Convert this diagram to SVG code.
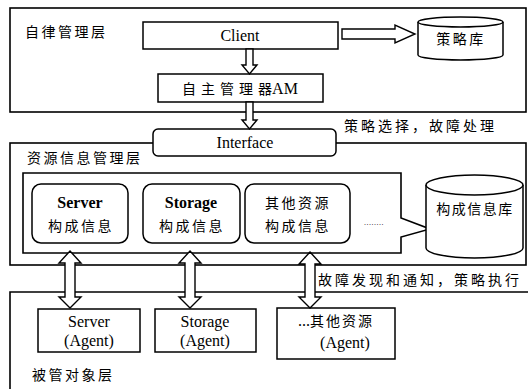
<svg xmlns="http://www.w3.org/2000/svg" width="528" height="389" viewBox="0 0 528 389">
<style>
.ln{fill:#fff;stroke:#000;stroke-width:1.5}
.lf{fill:none;stroke:#000;stroke-width:1.6}
.ar{fill:#fff;stroke:#000;stroke-width:1.4;stroke-linejoin:miter}
.cj{font-family:"Noto Sans CJK SC","Noto Sans CJK JP",sans-serif;font-size:14px;letter-spacing:2.5px;fill:#000}
.en{font-family:"Liberation Serif","DejaVu Serif",serif;font-size:16px;fill:#000}
.b{font-weight:bold}
.c{text-anchor:middle}
</style>
<rect width="528" height="389" fill="#fff"/>
<g id="layer-autonomic">
<rect class="lf" x="10" y="8" width="516" height="104"/>
<text class="cj" x="25" y="37">自律管理层</text>
</g>
<g id="layer-resource">
<rect class="lf" x="10" y="143" width="516" height="122"/>
<text class="cj" x="27" y="163">资源信息管理层</text>
<polygon class="lf" points="23,173 401,173 401,218 430,229 401,237 401,253 23,253"/>
</g>
<g id="layer-managed">
<path class="lf" d="M10,389 V292 H528"/>
<text class="cj" x="32" y="380">被管对象层</text>
</g>
<g id="client">
<rect class="ln" x="143" y="22" width="195" height="27"/>
<text class="en c" x="240" y="41">Client</text>
</g>
<g id="policy-db">
<path class="ln" d="M418,22 V55 A42.5,5 0 0 0 503,55 V22"/>
<ellipse class="ln" cx="460.5" cy="22" rx="42.5" ry="5"/>
<text class="cj c" x="461" y="44">策略库</text>
</g>
<g id="am">
<rect class="ln" x="158" y="74" width="165" height="28"/>
<text class="en c" x="240" y="94"><tspan class="cj" style="letter-spacing:5px">自主管理</tspan><tspan class="cj" style="letter-spacing:0">器</tspan>AM</text>
</g>
<g id="interface">
<rect class="ln" x="153" y="129" width="183" height="27" rx="5"/>
<text class="en c" x="245" y="148">Interface</text>
</g>
<text class="cj" x="344" y="131" style="letter-spacing:3px">策略选择，故障处理</text>
<g id="server-info">
<rect class="ln" x="32" y="184" width="96" height="59" rx="9"/>
<text class="en b c" x="80" y="208">Server</text>
<text class="cj c" x="81" y="231">构成信息</text>
</g>
<g id="storage-info">
<rect class="ln" x="143" y="184" width="97" height="59" rx="9"/>
<text class="en b c" x="191" y="208">Storage</text>
<text class="cj c" x="192" y="231">构成信息</text>
</g>
<g id="other-info">
<rect class="ln" x="245" y="184" width="105" height="59" rx="9"/>
<text class="cj c" x="298" y="208">其他资源</text>
<text class="cj c" x="298" y="231">构成信息</text>
</g>
<text x="364" y="225" style="font-family:'Liberation Serif',serif;font-size:8px;letter-spacing:0.5px">........</text>
<g id="config-db">
<path class="ln" d="M426,185 V248 A48.5,10 0 0 0 523,248 V185"/>
<ellipse class="ln" cx="474.5" cy="185" rx="48.5" ry="10"/>
<text class="cj c" x="475" y="214" style="letter-spacing:1.5px">构成信息库</text>
</g>
<g id="server-agent">
<rect class="ln" x="38" y="309" width="102" height="43"/>
<text class="en c" x="89" y="327">Server</text>
<text class="en c" x="89" y="346">(Agent)</text>
</g>
<g id="storage-agent">
<rect class="ln" x="155" y="309" width="101" height="43"/>
<text class="en c" x="205" y="327">Storage</text>
<text class="en c" x="205" y="346">(Agent)</text>
</g>
<g id="other-agent">
<rect class="ln" x="277" y="308" width="118" height="51"/>
<text class="en c" x="336" y="326">...<tspan class="cj" style="letter-spacing:2px">其他资源</tspan></text>
<text class="en c" x="345" y="348">(Agent)</text>
</g>
<text class="cj" x="318" y="285" style="letter-spacing:3px">故障发现和通知，策略执行</text>
<g id="connectors">
<path class="ar" d="M246,49 V65 H242 L249.5,74 L257,65 H253 V49 Z"/>
<path class="ar" d="M246,102 V120 H242 L249.5,129 L257,120 H253 V102 Z"/>
<path class="ar" d="M342,29 H395 V25 L415,34 L395,43 V39 H342 Z"/>
<path class="ar" d="M70,251 L81,263 H75 V297 H81 L70,308 L59,297 H65 V263 H59 Z"/>
<path class="ar" d="M190,251 L201,263 H195 V297 H201 L190,308 L179,297 H185 V263 H179 Z"/>
<path class="ar" d="M310,252 L321,264 H315 V297 H321 L310,308 L299,297 H305 V264 H299 Z"/>
</g>
</svg>
